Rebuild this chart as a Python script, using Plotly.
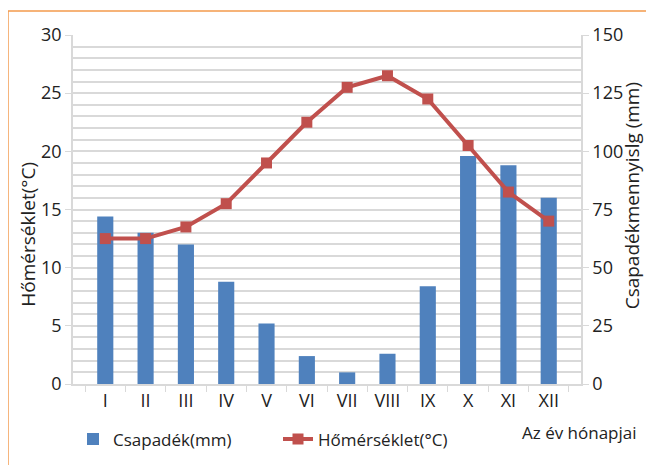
import plotly.graph_objects as go

# hónapok
honapok = ["I", "II", "III", "IV", "V", "VI", "VII", "VIII", "IX", "X", "XI", "XII"]
# csapadék (mm) - jobb tengely
csapadek = [72, 65, 60, 44, 26, 12, 5, 13, 42, 98, 94, 80]
# hőmérséklet (°C) - bal tengely
homerseklet = [12.5, 12.5, 13.5, 15.5, 19, 22.5, 25.5, 26.5, 24.5, 20.5, 16.5, 14]

kek = "#4F81BD"
piros = "#C0504D"
racs = "#D9D9D9"
betu = "Open Sans"

fig = go.Figure()
fig.add_trace(
    go.Bar(
        x=honapok,
        y=csapadek,
        name="Csapadék(mm)",
        marker=dict(color=kek, line=dict(width=0)),
        width=0.4,
        yaxis="y",
    )
)
fig.add_trace(
    go.Scatter(
        x=honapok,
        y=homerseklet,
        name="Hőmérséklet(°C)",
        mode="lines+markers",
        line=dict(color=piros, width=4),
        marker=dict(symbol="square", size=11, color=piros),
        yaxis="y2",
    )
)

# az oldal 8px-es body margója miatt minden 8px-el el van tolva
fig.update_layout(
    width=654,
    height=465,
    margin=dict(l=65, r=81, t=27, b=89, autoexpand=False),
    paper_bgcolor="white",
    plot_bgcolor="white",
    font=dict(family=betu, size=17, color="#222222"),
    showlegend=True,
    legend=dict(
        orientation="h",
        x=0.0,
        y=-0.107,
        xanchor="left",
        yanchor="top",
        font=dict(size=17),
        entrywidth=160,
        bgcolor="rgba(0,0,0,0)",
    ),
    xaxis=dict(
        showgrid=False,
        showline=True,
        linecolor=racs,
        linewidth=1.5,
        ticks="outside",
        tickcolor=racs,
        ticklen=6,
        tickson="boundaries",
        tickfont=dict(size=18),
        automargin=False,
    ),
    yaxis=dict(
        side="right",
        range=[0, 150],
        dtick=25,
        showgrid=True,
        gridcolor=racs,
        gridwidth=1.5,
        minor=dict(dtick=5, showgrid=True, gridcolor=racs, gridwidth=1.5),
        showline=True,
        linecolor=racs,
        linewidth=1.5,
        ticks="outside",
        tickcolor=racs,
        ticklen=6,
        zeroline=False,
        tickfont=dict(size=18),
        automargin=False,
    ),
    yaxis2=dict(
        overlaying="y",
        side="left",
        range=[0, 30],
        dtick=5,
        showgrid=False,
        showline=True,
        linecolor=racs,
        linewidth=1.5,
        ticks="outside",
        tickcolor=racs,
        ticklen=6,
        zeroline=False,
        tickfont=dict(size=18),
        automargin=False,
    ),
)

# tengelycímek
fig.add_annotation(
    text="Hőmérséklet(°C)",
    xref="paper", yref="paper",
    x=-0.089, y=0.43,
    xanchor="center", yanchor="middle",
    textangle=-90,
    showarrow=False,
    font=dict(size=19),
)
fig.add_annotation(
    text="Csapadékmennyislg (mm)",
    xref="paper", yref="paper",
    x=1.100, y=0.54,
    xanchor="center", yanchor="middle",
    textangle=-90,
    showarrow=False,
    font=dict(size=19),
)
fig.add_annotation(
    text="Az év hónapjai",
    xref="paper", yref="paper",
    x=1.114, y=-0.14,
    xanchor="right", yanchor="middle",
    showarrow=False,
    font=dict(size=17),
)

# narancs keret
fig.add_shape(
    type="rect",
    xref="paper", yref="paper",
    x0=-0.128, x1=1.136,
    y0=-0.24, y1=1.069,
    line=dict(color="#F39A4C", width=1.5),
    fillcolor="rgba(0,0,0,0)",
    layer="below",
)

fig.write_html("out.html")
